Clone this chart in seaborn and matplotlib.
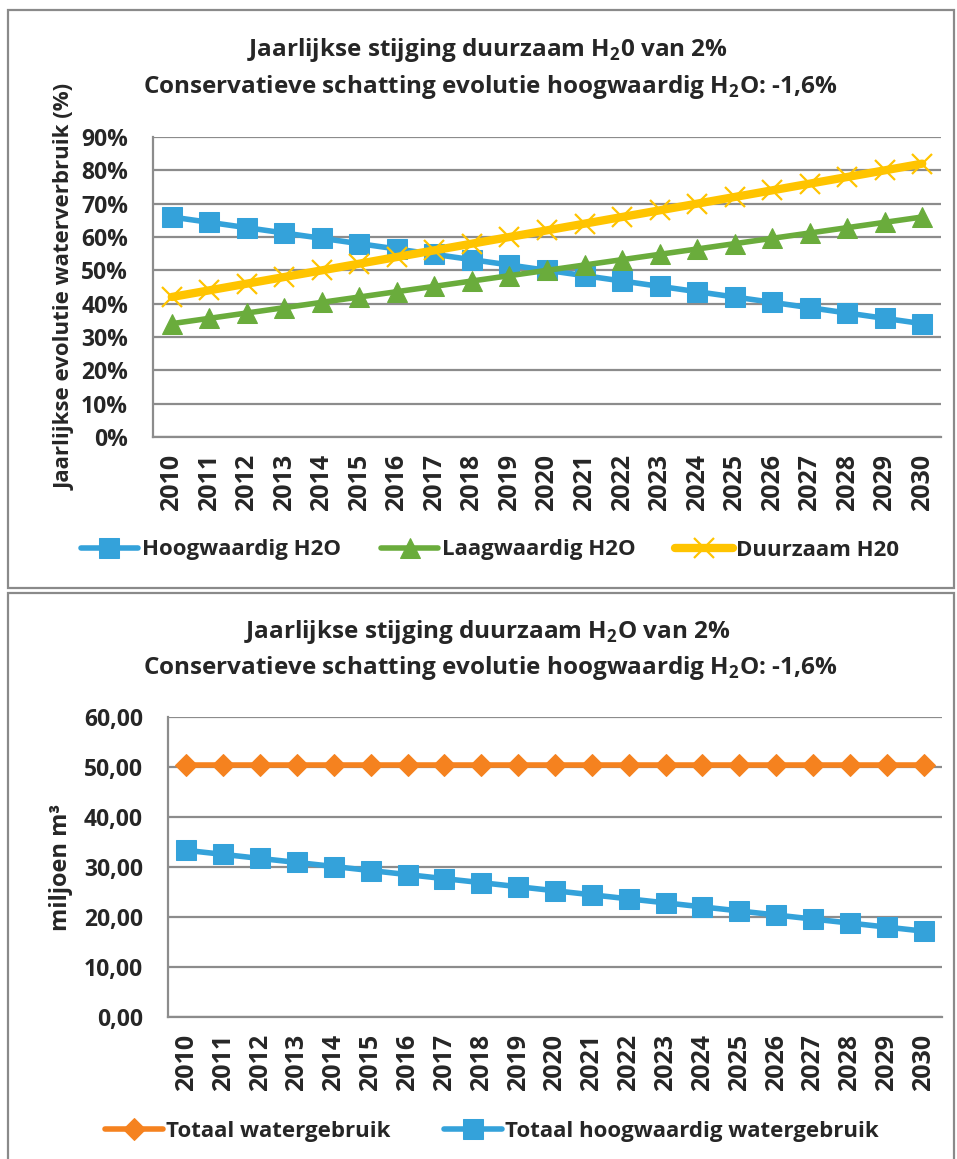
import matplotlib
matplotlib.use("Agg")
import matplotlib.pyplot as plt
import seaborn as sns
from matplotlib.patches import Rectangle

years = [str(y) for y in range(2010, 2031)]

# top chart, % of yearly water use
hoog_pct = [66.0, 64.4, 62.8, 61.2, 59.6, 58.0, 56.4, 54.8, 53.2, 51.6, 50.0,
            48.4, 46.8, 45.2, 43.6, 42.0, 40.4, 38.8, 37.2, 35.6, 34.0]
laag_pct = [34.0, 35.6, 37.2, 38.8, 40.4, 42.0, 43.6, 45.2, 46.8, 48.4, 50.0,
            51.6, 53.2, 54.8, 56.4, 58.0, 59.6, 61.2, 62.8, 64.4, 66.0]
duur_pct = [42, 44, 46, 48, 50, 52, 54, 56, 58, 60, 62,
            64, 66, 68, 70, 72, 74, 76, 78, 80, 82]

# bottom chart, million m3
totaal = [50.5, 50.5, 50.5, 50.5, 50.5, 50.5, 50.5, 50.5, 50.5, 50.5, 50.5,
          50.5, 50.5, 50.5, 50.5, 50.5, 50.5, 50.5, 50.5, 50.5, 50.5]
hoog_mln = [33.33, 32.52, 31.71, 30.91, 30.10, 29.29, 28.48, 27.67, 26.87, 26.06, 25.25,
            24.44, 23.63, 22.83, 22.02, 21.21, 20.40, 19.59, 18.79, 17.98, 17.17]

pct_ticks = [0, 10, 20, 30, 40, 50, 60, 70, 80, 90]
mln_ticks = [0, 10, 20, 30, 40, 50, 60]

BLUE = "#34A2DA"
GREEN = "#6AAC3C"
YELLOW = "#FFC400"
ORANGE = "#F5821F"
GRID = "#8C8C8C"
TXT = "#262626"

sns.set_style("white")
plt.rcParams["font.family"] = ["Open Sans", "DejaVu Sans"]
plt.rcParams["font.weight"] = "bold"
plt.rcParams["mathtext.fontset"] = "custom"
plt.rcParams["mathtext.rm"] = "Open Sans:bold"
plt.rcParams["mathtext.bf"] = "Open Sans:bold"
plt.rcParams["text.color"] = TXT

W, H = 957, 1159
fig = plt.figure(figsize=(W / 100, H / 100), dpi=100)

# panel borders
fig.patches.append(Rectangle((8 / W, 1 - 588 / H), 946 / W, 578 / H, transform=fig.transFigure,
                             fill=False, edgecolor="#8A8A8A", linewidth=1.6))
fig.patches.append(Rectangle((8 / W, 1 - 1170 / H), 946 / W, 577 / H, transform=fig.transFigure,
                             fill=False, edgecolor="#8A8A8A", linewidth=1.6, clip_on=False))

ax1 = fig.add_axes([153 / W, 1 - 437 / H, 788 / W, 300 / H])
ax2 = fig.add_axes([168 / W, 1 - 1017 / H, 774 / W, 300 / H])


def style_axis(ax, yticks, ylabels):
    ax.set_xlim(-0.5, len(years) - 0.5)
    ax.set_ylim(yticks[0], yticks[-1])
    ax.set_yticks(yticks)
    ax.set_yticklabels(ylabels, fontweight="bold", fontsize=16.5)
    ax.set_xticks(range(len(years)))
    ax.set_xticklabels(years, rotation=90, fontweight="bold", fontsize=18)
    ax.set_xticks([i - 0.5 for i in range(len(years) + 1)], minor=True)
    ax.tick_params(axis="x", which="major", length=0, pad=12, colors=TXT)
    ax.tick_params(axis="x", which="minor", length=7, width=1.5, color=GRID)
    ax.tick_params(axis="y", length=8, width=1.5, color=GRID, pad=10, labelcolor=TXT)
    ax.grid(axis="y", color=GRID, linewidth=1.6)
    ax.set_axisbelow(True)
    for s in ["top", "right"]:
        ax.spines[s].set_visible(False)
    for s in ["left", "bottom"]:
        ax.spines[s].set_color(GRID)
        ax.spines[s].set_linewidth(1.6)
    ax.set_xlabel("")


sns.lineplot(x=years, y=hoog_pct, ax=ax1, color=BLUE, linewidth=4, marker="s",
             markersize=14, mec=BLUE, label="Hoogwaardig H2O")
sns.lineplot(x=years, y=laag_pct, ax=ax1, color=GREEN, linewidth=4, marker="^",
             markersize=15, mec=GREEN, label="Laagwaardig H2O")
sns.lineplot(x=years, y=duur_pct, ax=ax1, color=YELLOW, linewidth=6, marker="x",
             markersize=15, mec=YELLOW, mew=1.6, label="Duurzaam H20")
style_axis(ax1, pct_ticks, [f"{t}%" for t in pct_ticks])
ax1.set_ylabel("Jaarlijkse evolutie waterverbruik (%)", fontsize=16, fontweight="bold", labelpad=4)

sns.lineplot(x=years, y=totaal, ax=ax2, color=ORANGE, linewidth=4, marker="D",
             markersize=11, mec=ORANGE, label="Totaal watergebruik")
sns.lineplot(x=years, y=hoog_mln, ax=ax2, color=BLUE, linewidth=4, marker="s",
             markersize=14, mec=BLUE, label="Totaal hoogwaardig watergebruik")
style_axis(ax2, mln_ticks, [f"{t},00" for t in mln_ticks])
ax2.set_ylabel("miljoen m³", fontsize=17, fontweight="bold", labelpad=8)

leg_font = {"weight": "bold", "size": 16}
h1, l1 = ax1.get_legend_handles_labels()
ax1.legend(h1, l1, ncol=3, frameon=False, loc="center", bbox_to_anchor=(490 / W, 1 - 550 / H),
           bbox_transform=fig.transFigure, prop=leg_font, handlelength=2.6, columnspacing=1.8,
           handletextpad=0.15)
h2, l2 = ax2.get_legend_handles_labels()
ax2.legend(h2, l2, ncol=2, frameon=False, loc="center", bbox_to_anchor=(492 / W, 1 - 1131 / H),
           bbox_transform=fig.transFigure, prop=leg_font, handlelength=2.6, columnspacing=2.4,
           handletextpad=0.15)

fig.text(487 / W, 1 - 50 / H, r"Jaarlijkse stijging duurzaam H$_{2}$0 van 2%",
         ha="center", va="center", fontsize=17.5, fontweight="bold")
fig.text(490 / W, 1 - 87 / H, r"Conservatieve schatting evolutie hoogwaardig H$_{2}$O: -1,6%",
         ha="center", va="center", fontsize=17.5, fontweight="bold")
fig.text(487 / W, 1 - 632 / H, r"Jaarlijkse stijging duurzaam H$_{2}$O van 2%",
         ha="center", va="center", fontsize=17.5, fontweight="bold")
fig.text(490 / W, 1 - 668 / H, r"Conservatieve schatting evolutie hoogwaardig H$_{2}$O: -1,6%",
         ha="center", va="center", fontsize=17.5, fontweight="bold")

fig.savefig("out.png", dpi=100)
